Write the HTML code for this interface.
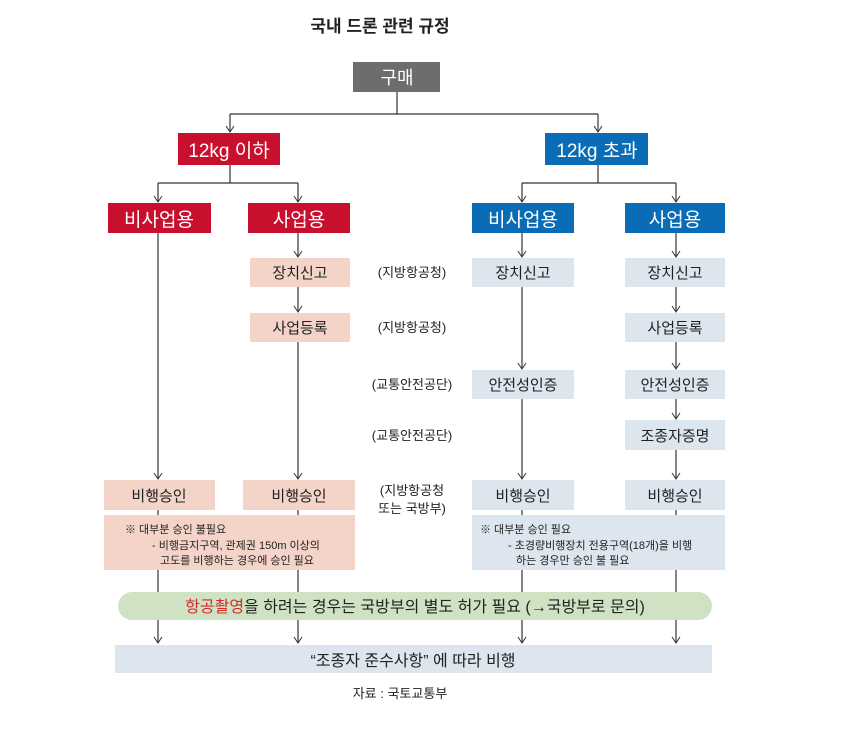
<!DOCTYPE html>
<html><head><meta charset="utf-8"><style>
body{margin:0;background:#fff}
svg text{font-family:"Liberation Sans","Noto Sans CJK KR",sans-serif}
</style></head><body>
<svg width="850" height="726" viewBox="0 0 850 726" xmlns="http://www.w3.org/2000/svg">
<defs><marker id="a" markerWidth="10" markerHeight="10" refX="5" refY="9" orient="0" markerUnits="userSpaceOnUse"><path d="M1,3 L5,9 L9,3" fill="none" stroke="#333" stroke-width="1"/></marker></defs>
<rect width="850" height="726" fill="#fff"/>
<text x="380" y="32" font-size="17" font-weight="bold" text-anchor="middle" fill="#222">국내 드론 관련 규정</text>
<g stroke="#333" stroke-width="1.2" fill="none">
<path d="M397 92V114M230 114H598"/>
<path d="M230 114V132" marker-end="url(#a)"/><path d="M598 114V132" marker-end="url(#a)"/>
<path d="M230 165V183M158 183H298M598 165V183M522 183H676"/>
<path d="M158 183V202" marker-end="url(#a)"/><path d="M298 183V202" marker-end="url(#a)"/>
<path d="M522 183V202" marker-end="url(#a)"/><path d="M676 183V202" marker-end="url(#a)"/>
<path d="M298 233V257" marker-end="url(#a)"/><path d="M522 233V257" marker-end="url(#a)"/><path d="M676 233V257" marker-end="url(#a)"/>
<path d="M298 287V312" marker-end="url(#a)"/><path d="M676 287V312" marker-end="url(#a)"/>
<path d="M522 287V369" marker-end="url(#a)"/><path d="M676 342V369" marker-end="url(#a)"/>
<path d="M676 399V419" marker-end="url(#a)"/>
<path d="M158 233V479" marker-end="url(#a)"/><path d="M298 342V479" marker-end="url(#a)"/>
<path d="M522 399V479" marker-end="url(#a)"/><path d="M676 450V479" marker-end="url(#a)"/>
<path d="M158 510V515M298 510V515M522 510V515M676 510V515"/>
<path d="M158 570V592M298 570V592M522 570V592M676 570V592"/>
<path d="M158 620V643" marker-end="url(#a)"/><path d="M298 620V643" marker-end="url(#a)"/>
<path d="M522 620V643" marker-end="url(#a)"/><path d="M676 620V643" marker-end="url(#a)"/>
</g>
<rect x="353" y="62" width="87" height="30" fill="#6d6d6d"/>
<text x="397" y="84" font-size="18" fill="#fff" text-anchor="middle">구매</text>
<rect x="178" y="133" width="102" height="32" fill="#c8102e"/>
<text x="229" y="157" font-size="19" fill="#fff" text-anchor="middle">12kg 이하</text>
<rect x="545" y="133" width="103" height="32" fill="#0a6cb5"/>
<text x="597" y="157" font-size="19" fill="#fff" text-anchor="middle">12kg 초과</text>
<g font-size="19" fill="#fff" text-anchor="middle">
<rect x="108" y="203" width="103" height="30" fill="#c8102e"/><text x="159" y="226">비사업용</text>
<rect x="248" y="203" width="102" height="30" fill="#c8102e"/><text x="299" y="226">사업용</text>
<rect x="472" y="203" width="102" height="30" fill="#0a6cb5"/><text x="523" y="226">비사업용</text>
<rect x="625" y="203" width="100" height="30" fill="#0a6cb5"/><text x="675" y="226">사업용</text>
</g>
<g font-size="15" fill="#222" text-anchor="middle">
<rect x="250" y="258" width="100" height="29" fill="#f4d4c8"/><text x="300" y="278">장치신고</text>
<rect x="472" y="258" width="102" height="29" fill="#dde5ee"/><text x="523" y="278">장치신고</text>
<rect x="625" y="258" width="100" height="29" fill="#dde5ee"/><text x="675" y="278">장치신고</text>
<rect x="250" y="313" width="100" height="29" fill="#f4d4c8"/><text x="300" y="333">사업등록</text>
<rect x="625" y="313" width="100" height="29" fill="#dde5ee"/><text x="675" y="333">사업등록</text>
<rect x="472" y="370" width="102" height="29" fill="#dde5ee"/><text x="523" y="390">안전성인증</text>
<rect x="625" y="370" width="100" height="29" fill="#dde5ee"/><text x="675" y="390">안전성인증</text>
<rect x="625" y="420" width="100" height="30" fill="#dde5ee"/><text x="675" y="441">조종자증명</text>
<rect x="104" y="480" width="111" height="30" fill="#f4d4c8"/><text x="159" y="501">비행승인</text>
<rect x="243" y="480" width="112" height="30" fill="#f4d4c8"/><text x="299" y="501">비행승인</text>
<rect x="472" y="480" width="102" height="30" fill="#dde5ee"/><text x="523" y="501">비행승인</text>
<rect x="625" y="480" width="100" height="30" fill="#dde5ee"/><text x="675" y="501">비행승인</text>
</g>
<g font-size="13" fill="#222" text-anchor="middle">
<text x="412" y="277">(지방항공청)</text>
<text x="412" y="332">(지방항공청)</text>
<text x="412" y="389">(교통안전공단)</text>
<text x="412" y="440">(교통안전공단)</text>
<text x="412" y="495">(지방항공청</text>
<text x="412" y="513">또는 국방부)</text>
</g>
<rect x="104" y="515" width="251" height="55" fill="#f4d4c8"/>
<rect x="472" y="515" width="253" height="55" fill="#dde5ee"/>
<g font-size="11" fill="#222">
<text x="125" y="533">※ 대부분 승인 불필요</text>
<text x="152" y="549">- 비행금지구역, 관제권 150m 이상의</text>
<text x="160" y="564">고도를 비행하는 경우에 승인 필요</text>
<text x="480" y="533">※ 대부분 승인 필요</text>
<text x="508" y="549">- 초경량비행장치 전용구역(18개)을 비행</text>
<text x="516" y="564">하는 경우만 승인 불 필요</text>
</g>
<rect x="118" y="592" width="594" height="28" rx="14" fill="#cfe3c4"/>
<text x="415" y="612" font-size="16" fill="#222" text-anchor="middle"><tspan fill="#d42a2a">항공촬영</tspan>을 하려는 경우는 국방부의 별도 허가 필요 (→국방부로 문의)</text>
<rect x="115" y="645" width="597" height="28" fill="#dde5ee"/>
<text x="413" y="666" font-size="16" fill="#222" text-anchor="middle">“조종자 준수사항” 에 따라 비행</text>
<text x="400" y="698" font-size="13" fill="#222" text-anchor="middle">자료 : 국토교통부</text>
</svg>
</body></html>
